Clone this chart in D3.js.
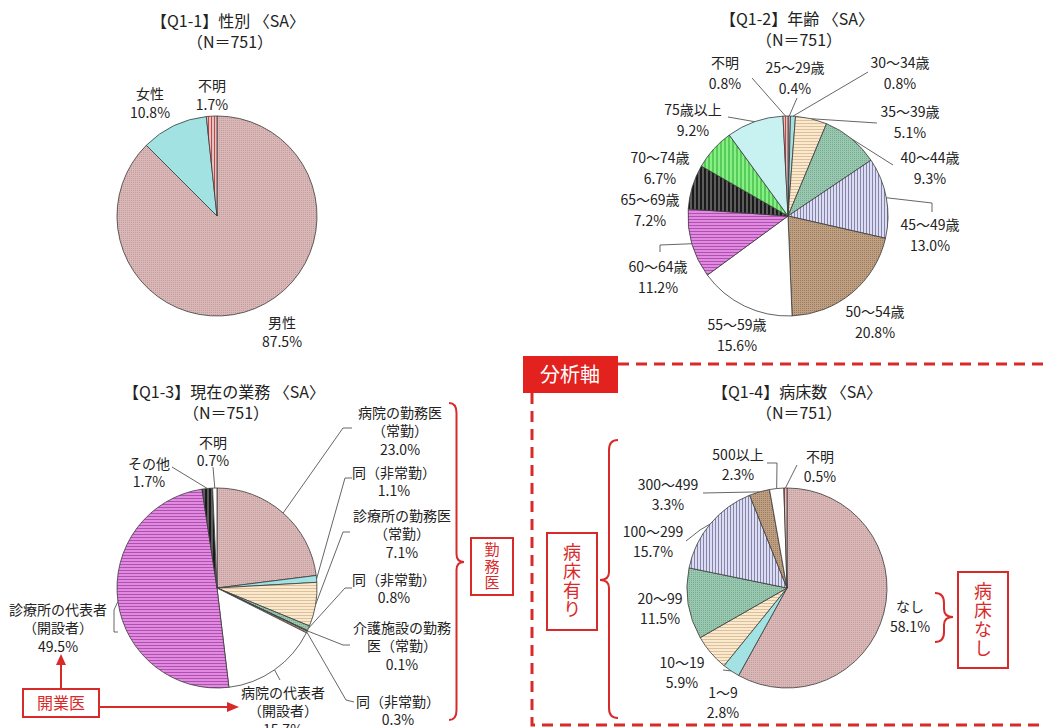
<!DOCTYPE html>
<html><head><meta charset="utf-8">
<script src="https://cdn.jsdelivr.net/npm/d3@7"></script>
<style>body{margin:0;background:#fff}svg{display:block;font-family:"Noto Sans CJK JP","Noto Sans",sans-serif}</style>
</head><body><svg id="c" width="1045" height="728"></svg>
<script>
// ---------- data ----------
const q11Cats = ["男性","女性","不明"];
const q11Vals = [87.5,10.8,1.7];
const q12Cats = ["25～29歳","30～34歳","35～39歳","40～44歳","45～49歳","50～54歳","55～59歳","60～64歳","65～69歳","70～74歳","75歳以上","不明"];
const q12Vals = [0.4,0.8,5.1,9.3,13.0,20.8,15.6,11.2,7.2,6.7,9.2,0.8];
const q13Cats = ["病院の勤務医\n（常勤）","同（非常勤）","診療所の勤務医\n（常勤）","同（非常勤）","介護施設の勤務\n医（常勤）","同（非常勤）","病院の代表者\n（開設者）","診療所の代表者\n（開設者）","その他","不明"];
const q13Vals = [23.0,1.1,7.1,0.8,0.1,0.3,15.7,49.5,1.7,0.7];
const q14Cats = ["なし","1～9","10～19","20～99","100～299","300～499","500以上","不明"];
const q14Vals = [58.1,2.8,5.9,11.5,15.7,3.3,2.3,0.5];
const titles = [["【Q1-1】性別 〈SA〉","（N＝751）"],["【Q1-2】年齢 〈SA〉","（N＝751）"],["【Q1-3】現在の業務 〈SA〉","（N＝751）"],["【Q1-4】病床数 〈SA〉","（N＝751）"]];

// ---------- styles ----------
const q11Fill = ["pinkDot","cyan","redStripe"];
const q12Fill = ["pinkDot","cyan","wheatH","tealDot","lavV","brownDot","white","magH","darkV","greenV","lcyan","redStripe"];
const q13Fill = ["pinkDot","cyan","wheatH","tealDot","lavV","brownDot","white","magH","darkV","white"];
const q14Fill = ["pinkDot","cyan","wheatH","tealDot","lavV","brownDot","white","redStripe"];
const RED = "#d92a2a";

const svg = d3.select("#c");
const defs = svg.append("defs");
function pat(id,bg,fg,type,p){
  const pt = defs.append("pattern").attr("id",id).attr("patternUnits","userSpaceOnUse").attr("width",p).attr("height",p);
  pt.append("rect").attr("width",p).attr("height",p).attr("fill",bg);
  if(type==="dot") pt.append("rect").attr("width",1).attr("height",1).attr("fill",fg);
  if(type==="h") pt.append("rect").attr("width",p).attr("height",1).attr("fill",fg);
  if(type==="v") pt.append("rect").attr("width",p>3?2:1).attr("height",p).attr("fill",fg);
}
pat("pinkDot","#dbb8b8","#c29c9c","dot",2);
pat("tealDot","#98c9b0","#7ba890","dot",2);
pat("brownDot","#bf9f82","#9c7c60","dot",2);
pat("wheatH","#fbe9cf","#dcc09a","h",3);
pat("lavV","#dcdcf2","#8484aa","v",3);
pat("magH","#e08ae0","#b050b0","h",3);
pat("darkV","#5c5c5c","#1a1a1a","v",4);
pat("greenV","#86f086","#58cc58","v",4);
pat("redStripe","#e8c0c0","#c04848","v",3);
pat("cyan","#a2e2e2","#a2e2e2","none",3);
pat("lcyan","#c8f2f2","#c8f2f2","none",3);
pat("white","#ffffff","#ffffff","none",3);

const fmt = d3.format(".1f");

function drawPie(cfg){
  const g = svg.append("g");
  const arcs = d3.pie().sort(null).value(d=>d)(cfg.vals);
  const arc = d3.arc().innerRadius(0).outerRadius(cfg.r);
  const edge = d3.arc().innerRadius(cfg.r).outerRadius(cfg.r);
  const pg = g.append("g").attr("transform",`translate(${cfg.cx},${cfg.cy})`);
  pg.selectAll("path").data(arcs).join("path")
    .attr("d",arc).attr("fill",(d,i)=>`url(#${cfg.fills[i]})`)
    .attr("stroke","#3a3a3a").attr("stroke-width",0.8).attr("stroke-linejoin","round");
  // title (one text, two lines)
  const t = g.append("text").attr("font-size",16).attr("fill","#222").attr("text-anchor","middle");
  t.append("tspan").attr("x",cfg.tx).attr("y",cfg.ty).attr("dy","0.35em").text(cfg.title[0]);
  t.append("tspan").attr("x",cfg.tx+2).attr("y",cfg.ty+21).attr("dy","0.35em").text(cfg.title[1]);
  // leaders + labels
  const line = d3.line();
  arcs.forEach((a,i)=>{
    const L = cfg.labels[i];
    if(!L) return;
    if(L[2]){
      const c = edge.centroid(a);
      const pts = [[c[0]+cfg.cx,c[1]+cfg.cy]].concat(L[2]);
      g.append("path").attr("d",line(pts)).attr("fill","none").attr("stroke","#555").attr("stroke-width",0.9);
    }
    const lines = cfg.cats[i].split("\n").concat([fmt(cfg.vals[i])+"%"]);
    const tx = g.append("text").attr("font-size",14).attr("fill","#222").attr("text-anchor","middle");
    lines.forEach((s,k)=>{
      tx.append("tspan").attr("x",L[0]).attr("y",L[1]+k*cfg.lh).attr("dy","0.35em").text(s);
    });
  });
}

// ---------- layout ----------
drawPie({cats:q11Cats, vals:q11Vals, fills:q11Fill, cx:217, cy:216, r:100, tx:228, ty:21, title:titles[0], lh:19,
  labels:[[282,323],[150,94],[212,86]]});

drawPie({cats:q12Cats, vals:q12Vals, fills:q12Fill, cx:788, cy:216, r:100, tx:797, ty:19, title:titles[1], lh:21,
  labels:[
    [795,68,[[797,98]]],
    [900,63,[[868,72]]],
    [910,112,[[877,123]]],
    [930,158,[[893,165]]],
    [930,225,[[932,203],[932,212]]],
    [875,312],
    [737,325],
    [658,267,[[660,245],[660,252]]],
    [650,200],
    [660,158],
    [693,110,[[728,117]]],
    [725,63,[[752,78]]]
  ]});

drawPie({cats:q13Cats, vals:q13Vals, fills:q13Fill, cx:217, cy:588, r:100, tx:224, ty:392, title:titles[2], lh:18.5,
  labels:[
    [400,413,[[343,428],[352,428]]],
    [394,473,[[345,478],[352,478]]],
    [402,516,[[343,532],[350,532]]],
    [394,580,[[345,588],[352,588]]],
    [402,628,[[343,645],[350,645]]],
    [398,702,[[346,700],[354,702]]],
    [283,693,[[280,680]]],
    [58,610,[[114,610],[114,632],[118,632]]],
    [149,464,[[172,467]]],
    [213,443,[[213,467]]]
  ]});

drawPie({cats:q14Cats, vals:q14Vals, fills:q14Fill, cx:787, cy:588, r:100, tx:797, ty:392, title:titles[3], lh:20,
  labels:[
    [910,607],
    [723,693,[[723,670]]],
    [682,663],
    [660,599],
    [653,532,[[700,530],[686,541]]],
    [668,485,[[703,493]]],
    [738,455,[[777,463],[767,463]]],
    [820,457,[[797,465]]]
  ]});

// ---------- annotations ----------
const an = svg.append("g");
// dashed frame
an.append("path").attr("d","M618,364 H1045 M532,393 V725 H1045")
  .attr("fill","none").attr("stroke",RED).attr("stroke-width",3).attr("stroke-dasharray","11,7");
an.append("rect").attr("x",523).attr("y",356).attr("width",95).attr("height",37).attr("fill","#e3211f");
an.append("text").attr("x",570).attr("y",375).attr("dy","0.35em").attr("text-anchor","middle")
  .attr("font-size",20).attr("fill","#fff").text("分析軸");

function brace(x0,x1,y0,y1,ym){ // x0 = tips side, x1 = point side
  const xm=(x0+x1)/2;
  return `M${x0},${y0} Q${xm},${y0} ${xm},${y0+10} L${xm},${ym-8} Q${xm},${ym} ${x1},${ym} Q${xm},${ym} ${xm},${ym+8} L${xm},${y1-10} Q${xm},${y1} ${x0},${y1}`;
}
an.append("path").attr("d",brace(449,464,403,720,562)).attr("fill","none").attr("stroke",RED).attr("stroke-width",2);
an.append("path").attr("d",brace(618,600,440,718,580)).attr("fill","none").attr("stroke",RED).attr("stroke-width",2);
an.append("path").attr("d",brace(935,953,593,642,617)).attr("fill","none").attr("stroke",RED).attr("stroke-width",2);

function vbox(x,y,w,h,chars,fs,cy,ls){
  an.append("rect").attr("x",x).attr("y",y).attr("width",w).attr("height",h)
    .attr("fill","#fff").attr("stroke",RED).attr("stroke-width",2);
  an.append("text").attr("x",x+w/2).attr("y",cy)
    .attr("writing-mode","vertical-rl").attr("text-anchor","middle")
    .attr("letter-spacing",ls).attr("font-size",fs).attr("fill",RED).text(chars);
}
vbox(471,538,42,57,"勤務医",15,567,1.5);
vbox(547,533,50,97,"病床有り",18,581,1);
vbox(958,572,50,96,"病床なし",18,620,1);

// 開業医
an.append("rect").attr("x",23).attr("y",689).attr("width",76).attr("height",28)
  .attr("fill","#fff").attr("stroke",RED).attr("stroke-width",2);
an.append("text").attr("x",61).attr("y",703).attr("dy","0.35em").attr("text-anchor","middle")
  .attr("font-size",16).attr("fill",RED).text("開業医");
an.append("line").attr("x1",61).attr("y1",689).attr("x2",61).attr("y2",664).attr("stroke",RED).attr("stroke-width",2);
an.append("path").attr("d","M61,654 L56,665 L66,665 Z").attr("fill",RED);
an.append("line").attr("x1",99).attr("y1",707).attr("x2",228).attr("y2",707).attr("stroke",RED).attr("stroke-width",2);
an.append("path").attr("d","M239,707 L227,702 L227,712 Z").attr("fill",RED);
</script></body></html>
